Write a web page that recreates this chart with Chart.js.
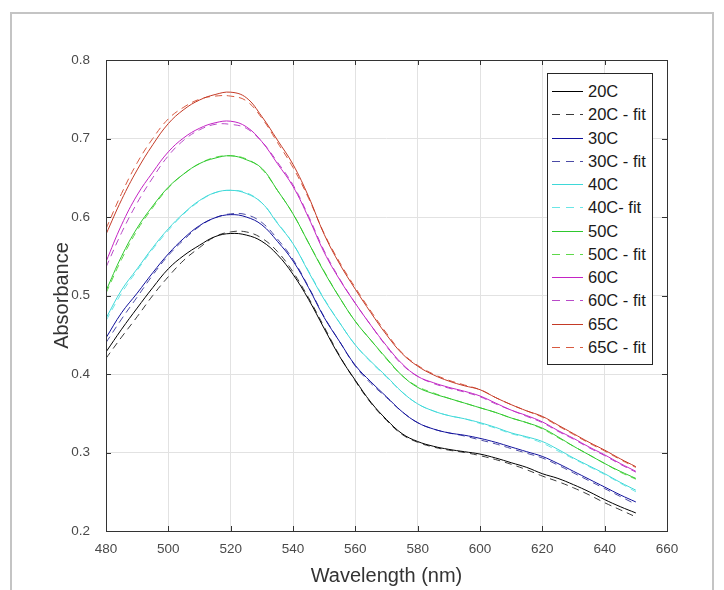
<!DOCTYPE html>
<html>
<head>
<meta charset="utf-8">
<script src="https://cdn.jsdelivr.net/npm/chart.js@4.4.0/dist/chart.umd.min.js"></script>
<style>
  body { margin: 0; background: #fff; }
  #wrap { position: relative; width: 724px; height: 590px; overflow: hidden; font-family: "Liberation Sans", Arial, sans-serif; }
  #frame { position: absolute; left: 10px; top: 12px; width: 700px; height: 600px; border: 2px solid #c4c4c4; }
  canvas { position: absolute; left: 0; top: 0; }
  #legend { position: absolute; left: 547px; top: 73px; width: 104px; height: 290px; border: 1px solid #262626; background: #fff; box-sizing: content-box; }
  .row { position: absolute; left: 0; width: 104px; height: 23px; line-height: 23px; font-size: 16.5px; color: #1a1a1a; white-space: nowrap; }
  .swatch { position: absolute; left: 4px; top: 11px; width: 31px; height: 1px; }
  .row span.txt { position: absolute; left: 40px; }
</style>
</head>
<body>
<div id="wrap">
  <div id="frame"></div>
  <canvas id="myChart" width="724" height="590"></canvas>
  <div id="legend"></div>
</div>
<script>
// Longueurs d'onde (nm)
const wavelength = [480, 485, 490, 495, 500, 505, 510, 515, 520, 525, 530, 535, 540, 545, 550, 555, 560, 565, 570, 575,
  580, 585, 590, 595, 600, 605, 610, 615, 620, 625, 630, 635, 640, 645, 650];

// Ticks
const xTicks = [480, 500, 520, 540, 560, 580, 600, 620, 640, 660];
const yTicks = [0.2, 0.3, 0.4, 0.5, 0.6, 0.7, 0.8];

// Mesures et fits
const abs20 = [0.428, 0.457, 0.484, 0.510, 0.534, 0.551, 0.564, 0.575, 0.579, 0.577, 0.569, 0.552, 0.527, 0.495, 0.458,
  0.422, 0.392, 0.364, 0.342, 0.324, 0.314, 0.308, 0.304, 0.301, 0.298, 0.293, 0.287, 0.281, 0.273, 0.267, 0.259, 0.250, 0.240, 0.231, 0.223];
const fit20 = [0.420, 0.447, 0.473, 0.500, 0.524, 0.545, 0.561, 0.575, 0.581, 0.581, 0.573, 0.556, 0.530, 0.497, 0.460,
  0.423, 0.391, 0.363, 0.341, 0.323, 0.313, 0.307, 0.303, 0.300, 0.296, 0.291, 0.285, 0.278, 0.270, 0.263, 0.255, 0.246, 0.236, 0.227, 0.218];
const abs30 = [0.446, 0.478, 0.503, 0.529, 0.553, 0.573, 0.589, 0.599, 0.603, 0.600, 0.590, 0.569, 0.544, 0.510, 0.472,
  0.441, 0.411, 0.390, 0.371, 0.352, 0.338, 0.330, 0.325, 0.322, 0.318, 0.313, 0.307, 0.301, 0.295, 0.286, 0.276, 0.266, 0.256, 0.246, 0.237];
const fit30 = [0.440, 0.470, 0.498, 0.526, 0.551, 0.571, 0.588, 0.599, 0.604, 0.603, 0.593, 0.572, 0.546, 0.511, 0.473,
  0.441, 0.410, 0.388, 0.370, 0.352, 0.338, 0.330, 0.325, 0.321, 0.316, 0.311, 0.305, 0.299, 0.293, 0.284, 0.274, 0.264, 0.254, 0.244, 0.234];
const abs40 = [0.471, 0.507, 0.534, 0.561, 0.585, 0.605, 0.621, 0.631, 0.634, 0.630, 0.618, 0.592, 0.566, 0.530, 0.495,
  0.465, 0.437, 0.416, 0.397, 0.377, 0.362, 0.353, 0.347, 0.343, 0.338, 0.332, 0.325, 0.320, 0.314, 0.304, 0.293, 0.283, 0.273, 0.262, 0.252];
const fit40 = [0.468, 0.503, 0.532, 0.559, 0.583, 0.604, 0.620, 0.631, 0.634, 0.631, 0.618, 0.593, 0.566, 0.531, 0.496,
  0.465, 0.437, 0.415, 0.396, 0.377, 0.362, 0.353, 0.347, 0.343, 0.337, 0.331, 0.324, 0.319, 0.312, 0.302, 0.292, 0.282, 0.272, 0.261, 0.250];
const abs50 = [0.506, 0.550, 0.586, 0.614, 0.638, 0.655, 0.668, 0.675, 0.678, 0.673, 0.662, 0.634, 0.604, 0.567, 0.530,
  0.497, 0.467, 0.443, 0.420, 0.398, 0.383, 0.375, 0.369, 0.363, 0.357, 0.351, 0.344, 0.338, 0.331, 0.320, 0.308, 0.297, 0.286, 0.276, 0.267];
const fit50 = [0.503, 0.546, 0.583, 0.612, 0.637, 0.655, 0.668, 0.676, 0.678, 0.674, 0.661, 0.634, 0.604, 0.567, 0.531,
  0.497, 0.467, 0.443, 0.419, 0.398, 0.384, 0.376, 0.369, 0.363, 0.357, 0.351, 0.344, 0.338, 0.330, 0.319, 0.308, 0.297, 0.286, 0.275, 0.266];
const abs60 = [0.543, 0.590, 0.628, 0.657, 0.683, 0.701, 0.713, 0.720, 0.722, 0.715, 0.696, 0.668, 0.639, 0.599, 0.555,
  0.520, 0.490, 0.462, 0.436, 0.413, 0.397, 0.389, 0.383, 0.378, 0.372, 0.363, 0.354, 0.347, 0.339, 0.328, 0.318, 0.307, 0.297, 0.286, 0.276];
const fit60 = [0.536, 0.580, 0.618, 0.650, 0.678, 0.698, 0.711, 0.718, 0.718, 0.713, 0.696, 0.670, 0.641, 0.601, 0.557,
  0.521, 0.490, 0.462, 0.435, 0.412, 0.397, 0.388, 0.382, 0.377, 0.371, 0.362, 0.354, 0.346, 0.338, 0.327, 0.317, 0.306, 0.296, 0.285, 0.275];
const abs65 = [0.578, 0.622, 0.660, 0.692, 0.719, 0.737, 0.749, 0.756, 0.759, 0.752, 0.728, 0.698, 0.667, 0.626, 0.578,
  0.540, 0.508, 0.478, 0.450, 0.426, 0.410, 0.399, 0.391, 0.385, 0.380, 0.370, 0.361, 0.353, 0.346, 0.335, 0.324, 0.313, 0.303, 0.292, 0.282];
const fit65 = [0.585, 0.630, 0.669, 0.700, 0.725, 0.740, 0.750, 0.754, 0.754, 0.748, 0.726, 0.695, 0.663, 0.624, 0.579,
  0.542, 0.510, 0.480, 0.452, 0.427, 0.411, 0.400, 0.392, 0.386, 0.380, 0.370, 0.361, 0.353, 0.345, 0.334, 0.323, 0.312, 0.302, 0.291, 0.281];

const labels = ["20C", "20C - fit", "30C", "30C - fit", "40C", "40C- fit", "50C", "50C - fit", "60C", "60C - fit", "65C", "65C - fit"];
const series = [abs20, fit20, abs30, fit30, abs40, fit40, abs50, fit50, abs60, fit60, abs65, fit65];
const colors = ["#000000", "#3a3a3a", "#10109c", "#4b4ba6", "#3ed8d8", "#6ae6e6", "#2ec82e", "#5fd84a", "#c424c4", "#b84ac8", "#c43a26", "#d85a40"];

const DASH = [7, 5];

function toPoints(values) {
  return values.map(function(v, i) { return { x: wavelength[i], y: v }; });
}

const datasets = series.map(function(values, i) {
  const isFit = i % 2 === 1;
  return {
    label: labels[i],
    data: toPoints(values),
    borderColor: colors[i],
    borderWidth: 1,
    borderDash: isFit ? DASH : [],
    pointRadius: 0,
    fill: false,
    tension: 0.4
  };
});

// Boite des axes + graduations vers l'interieur (style MATLAB)
const axesBox = {
  id: "axesBox",
  afterDraw(chart) {
    const { ctx, chartArea: a, scales } = chart;
    ctx.save();
    ctx.strokeStyle = "#333333";
    ctx.lineWidth = 1;
    ctx.strokeRect(a.left + 0.5, a.top + 0.5, a.right - a.left, a.bottom - a.top);
    const tl = 5;
    ctx.beginPath();
    xTicks.forEach(function(t) {
      const px = Math.round(scales.x.getPixelForValue(t)) + 0.5;
      ctx.moveTo(px, a.bottom); ctx.lineTo(px, a.bottom - tl);
      ctx.moveTo(px, a.top); ctx.lineTo(px, a.top + tl);
    });
    yTicks.forEach(function(t) {
      const py = Math.round(scales.y.getPixelForValue(t)) + 0.5;
      ctx.moveTo(a.left, py); ctx.lineTo(a.left + tl, py);
      ctx.moveTo(a.right, py); ctx.lineTo(a.right - tl, py);
    });
    ctx.stroke();
    ctx.restore();
  }
};

const ctx = document.getElementById("myChart").getContext("2d");
new Chart(ctx, {
  type: "line",
  data: { datasets: datasets },
  options: {
    responsive: false,
    animation: false,
    layout: { padding: { left: 0, right: 57, top: 60, bottom: 0 } },
    plugins: { legend: { display: false }, tooltip: { enabled: false } },
    scales: {
      x: {
        type: "linear",
        min: 480,
        max: 660,
        afterBuildTicks: function(scale) { scale.ticks = xTicks.map(function(v) { return { value: v }; }); },
        afterFit: function(scale) { scale.height = 59; },
        grid: { color: "#e2e2e2", drawTicks: false },
        border: { display: false },
        ticks: { color: "#4a4a4a", padding: 10, font: { family: "Liberation Sans", size: 13.5 }, maxRotation: 0 },
        title: { display: true, text: "Wavelength (nm)", color: "#333333", font: { family: "Liberation Sans", size: 20 }, padding: { top: 0, bottom: 2 } }
      },
      y: {
        min: 0.2,
        max: 0.8,
        afterBuildTicks: function(scale) { scale.ticks = yTicks.map(function(v) { return { value: v }; }); },
        afterFit: function(scale) { scale.width = 106; },
        grid: { color: "#e2e2e2", drawTicks: false },
        border: { display: false },
        ticks: { color: "#4a4a4a", padding: 16, font: { family: "Liberation Sans", size: 13.5 }, callback: function(v) { return v.toFixed(1); } },
        title: { display: true, text: "Absorbance", color: "#333333", font: { family: "Liberation Sans", size: 20 }, padding: { top: 50, bottom: 0 } }
      }
    }
  },
  plugins: [axesBox]
});

// Legende HTML
const legend = document.getElementById("legend");
datasets.forEach(function(ds, i) {
  const row = document.createElement("div");
  row.className = "row";
  row.style.top = Math.round(6 + i * 23.27) + "px";
  const sw = document.createElement("div");
  sw.className = "swatch";
  if (i % 2 === 1) {
    sw.style.background = "repeating-linear-gradient(to right, " + ds.borderColor + " 0 8px, transparent 8px 14px)";
  } else {
    sw.style.background = ds.borderColor;
  }
  const txt = document.createElement("span");
  txt.className = "txt";
  txt.textContent = ds.label;
  row.appendChild(sw);
  row.appendChild(txt);
  legend.appendChild(row);
});
</script>
</body>
</html>
